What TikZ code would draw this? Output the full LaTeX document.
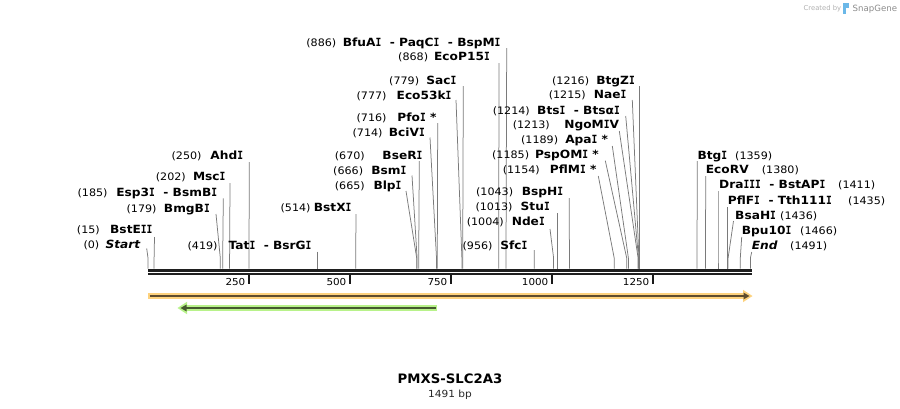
\documentclass[tikz,border=0pt]{standalone}
\usepackage{fontspec}
\setmainfont{DejaVu Sans}
\newfontfamily\nmf[FakeStretch=1.08]{DejaVu Sans}
\newfontfamily\ifnt[FakeStretch=0.85]{DejaVu Sans Mono}
\newfontfamily\nuf[FakeStretch=1.08]{DejaVu Sans}
\newfontfamily\ttf[FakeStretch=1.02]{DejaVu Sans}
\newcommand\Ii{{\ifnt I}}
\definecolor{orlt}{HTML}{FDD27E}
\definecolor{ordk}{HTML}{5E4C2E}
\definecolor{grlt}{HTML}{B8F28A}
\definecolor{grdk}{HTML}{45592F}
\definecolor{sitegray}{HTML}{7A7A7A}
\definecolor{logoblue}{HTML}{6BB8E8}
\tikzset{
  nm/.style={font=\nmf\bfseries\fontsize{11.3}{13}\selectfont, inner sep=0pt, text=black},
  nu/.style={font=\nuf\fontsize{10.3}{12}\selectfont, inner sep=0pt, text=black},
  site/.style={draw=sitegray, line width=0.75pt},
  tickmark/.style={draw=black!90, line width=1.6pt},
  ticklab/.style={font=\nuf\fontsize{9.6}{11}\selectfont, inner sep=0pt, text=black},
  rulerline/.style={draw=black!88, line cap=butt}
}
% left label: key, num, name, nameRightX, numRightX, y, topx, topy, bottomx
\newcommand\lsite[9]{%
  \node[nm,anchor=base east] (n-#1) at (#4,#6+4.2) {#3};
  \node[nu,anchor=base east] (p-#1) at (#5,#6+4.2) {(#2)};
  \coordinate (t-#1) at (#7,#8);
  \coordinate (m-#1) at (#9,258);
  \coordinate (b-#1) at (#9,268.6);
  \draw[site] (t-#1) -- (m-#1) -- (b-#1);
}
% right label: key, num, name, nameLeftX, numLeftX, y, topx, topy, bottomx
\newcommand\rsite[9]{%
  \node[nm,anchor=base west] (n-#1) at (#4,#6+4.2) {#3};
  \node[nu,anchor=base west] (p-#1) at (#5,#6+4.2) {(#2)};
  \coordinate (t-#1) at (#7,#8);
  \coordinate (m-#1) at (#9,258);
  \coordinate (b-#1) at (#9,268.6);
  \draw[site] (t-#1) -- (m-#1) -- (b-#1);
}
\begin{document}
\begin{tikzpicture}[x=1pt,y=-1pt]
\useasboundingbox (0,0) rectangle (900,408);
\fill[white] (0,0) rectangle (900,408);

% ruler
\coordinate (r0) at (148,270.3);
\coordinate (r1) at (752,270.3);
\coordinate (r2) at (148,274.3);
\coordinate (r3) at (752,274.3);
\draw[rulerline, line width=2.7pt] (r0) -- (r1);
\draw[rulerline, line width=2pt] (r2) -- (r3);
\foreach \v/\x in {250/249,500/350,750/451,1000/552,1250/653}{
  \coordinate (tka-\v) at (\x,275);
  \coordinate (tkb-\v) at (\x,283.5);
  \draw[tickmark] (tka-\v) -- (tkb-\v);
  \node[ticklab, anchor=base east] (tk-\v) at (\x-3.5,285.5) {\v};
}

% left-side sites
\lsite{Start}{0}{\itshape Start}{140.5}{99.5}{244}{146.7}{248.5}{148}
\lsite{BstEII}{15}{BstE\Ii\Ii}{152.7}{100}{229.3}{154.5}{237}{154.1}
\lsite{BmgBI}{179}{BmgB\Ii}{210}{156.7}{208}{216}{214}{220.3}
\lsite{Esp3I}{185}{Esp3\Ii\ \ - BsmB\Ii}{217.3}{107.7}{192.3}{223.3}{198.3}{222.7}
\lsite{MscI}{202}{Msc\Ii}{225.7}{186}{176}{230}{183}{229.6}
\lsite{AhdI}{250}{Ahd\Ii}{243.3}{201.7}{155}{249.3}{162}{249}
\lsite{TatI}{419}{Tat\Ii\ \ - BsrG\Ii}{311.7}{217.7}{245}{317.3}{251.7}{317.3}
\lsite{BstXI}{514}{BstX\Ii}{351.7}{310.7}{207.3}{356}{214}{355.7}
\lsite{BseRI}{670}{BseR\Ii}{422.7}{365}{155}{419.3}{161}{418.7}
\lsite{BsmI}{666}{Bsm\Ii}{406.7}{363.3}{170}{412}{175.5}{417.1}
\lsite{BlpI}{665}{Blp\Ii}{401.7}{365}{185}{406}{191}{416.7}
\lsite{BciVI}{714}{BciV\Ii}{425}{382.7}{132}{430}{137.5}{436.5}
\lsite{PfoI}{716}{Pfo\Ii\ *}{436.7}{386.7}{117.3}{437.7}{123}{437.3}
\lsite{Eco53kI}{777}{Eco53k\Ii}{451.7}{386.7}{95}{456}{100}{461.9}
\lsite{SacI}{779}{Sac\Ii}{456.7}{419.3}{80.7}{463.3}{86}{462.7}
\lsite{EcoP15I}{868}{EcoP15\Ii}{490}{428.3}{56.7}{499}{63}{498.7}
\lsite{BfuAI}{886}{BfuA\Ii\ \ - PaqC\Ii\ \ - BspM\Ii}{500.7}{336.5}{42.3}{506.7}{48}{506}
\lsite{SfcI}{956}{Sfc\Ii}{527.7}{492.7}{245}{534.3}{250}{534.2}
\lsite{NdeI}{1004}{Nde\Ii}{545}{504}{221.7}{550}{229}{553.6}
\lsite{StuI}{1013}{Stu\Ii}{550}{512.7}{206.7}{557.3}{213}{557.3}
\lsite{BspHI}{1043}{BspH\Ii}{563.3}{513.3}{191.7}{569.3}{198}{569.4}
\lsite{PflMI}{1154}{PflM\Ii\ *}{596.7}{540}{169.5}{598.3}{176}{614.2}
\lsite{PspOMI}{1185}{PspOM\Ii\ *}{599}{529.3}{154.5}{605.3}{160.7}{626.7}
\lsite{ApaI}{1189}{Apa\Ii\ *}{608.3}{558.3}{139.5}{612.3}{146}{628.4}
\lsite{NgoMIV}{1213}{NgoM\Ii V}{619.3}{550}{124.5}{619.3}{131}{638.1}
\lsite{BtsI}{1214}{Bts\Ii\ \ - Btsα\Ii}{620}{530}{110}{625.7}{116}{638.5}
\lsite{NaeI}{1215}{Nae\Ii}{626.7}{586}{94.5}{632.3}{100}{638.9}
\lsite{BtgZI}{1216}{BtgZ\Ii}{635}{589.3}{80}{639.3}{86}{639.3}

% right-side sites
\rsite{BtgI}{1359}{Btg\Ii}{697.3}{735}{155}{697.3}{161}{697.0}
\rsite{EcoRV}{1380}{EcoRV}{705.7}{761.7}{169.5}{705.7}{176}{705.5}
\rsite{DraIII}{1411}{Dra\Ii\Ii\Ii\ \ - BstAP\Ii}{719}{838}{184.5}{718}{191}{718.0}
\rsite{PflFI}{1435}{PflF\Ii\ \ - Tth111\Ii}{727.7}{848}{200}{727.7}{207}{727.7}
\rsite{BsaHI}{1436}{BsaH\Ii}{735}{780}{215}{733.5}{221}{728.1}
\rsite{Bpu10I}{1466}{Bpu10\Ii}{741.7}{800}{230}{741.7}{237}{740.3}
\rsite{End}{1491}{\itshape End}{751.7}{790}{245}{751.7}{252}{750.4}

% feature arrows
\coordinate (fa1) at (148,296);
\coordinate (fa2) at (745,296);
\draw[line width=5.2pt, orlt] (fa1) -- (fa2);
\fill[orlt] (743,289.8) -- (752.5,296) -- (743,302.2) -- cycle;
\draw[line width=2.1pt, ordk] (149.5,296) -- (745,296);
\fill[ordk] (743.5,292.6) -- (749.5,296) -- (743.5,299.4) -- cycle;

\coordinate (fb1) at (437,308);
\coordinate (fb2) at (185,308);
\draw[line width=5.2pt, grlt] (fb1) -- (fb2);
\fill[grlt] (187,301.8) -- (177.5,308) -- (187,314.2) -- cycle;
\draw[line width=2.1pt, grdk] (435.5,308) -- (185,308);
\fill[grdk] (186.5,304.6) -- (180.5,308) -- (186.5,311.4) -- cycle;

% title
\node[font=\ttf\bfseries\fontsize{13}{15}\selectfont, inner sep=0pt, anchor=base] (title) at (450,383.2) {PMXS-SLC2A3};
\node[font=\nuf\fontsize{9.8}{11}\selectfont, inner sep=0pt, anchor=base, text=black!85] (len) at (450,397) {1491 bp};

% logo
\node[font=\fontsize{6.8}{8}\selectfont, inner sep=0pt, anchor=base west, text=black!30] (cr) at (803.5,10.5) {Created by};
\fill[logoblue] (843.2,3.2) rectangle (849.3,8.2);
\fill[logoblue] (843.2,8.2) rectangle (845.6,13.5);
\node[font=\fontsize{8.6}{10}\selectfont, inner sep=0pt, anchor=base west, text=black!45] (sg) at (852.5,11.2) {SnapGene};
\end{tikzpicture}
\end{document}
